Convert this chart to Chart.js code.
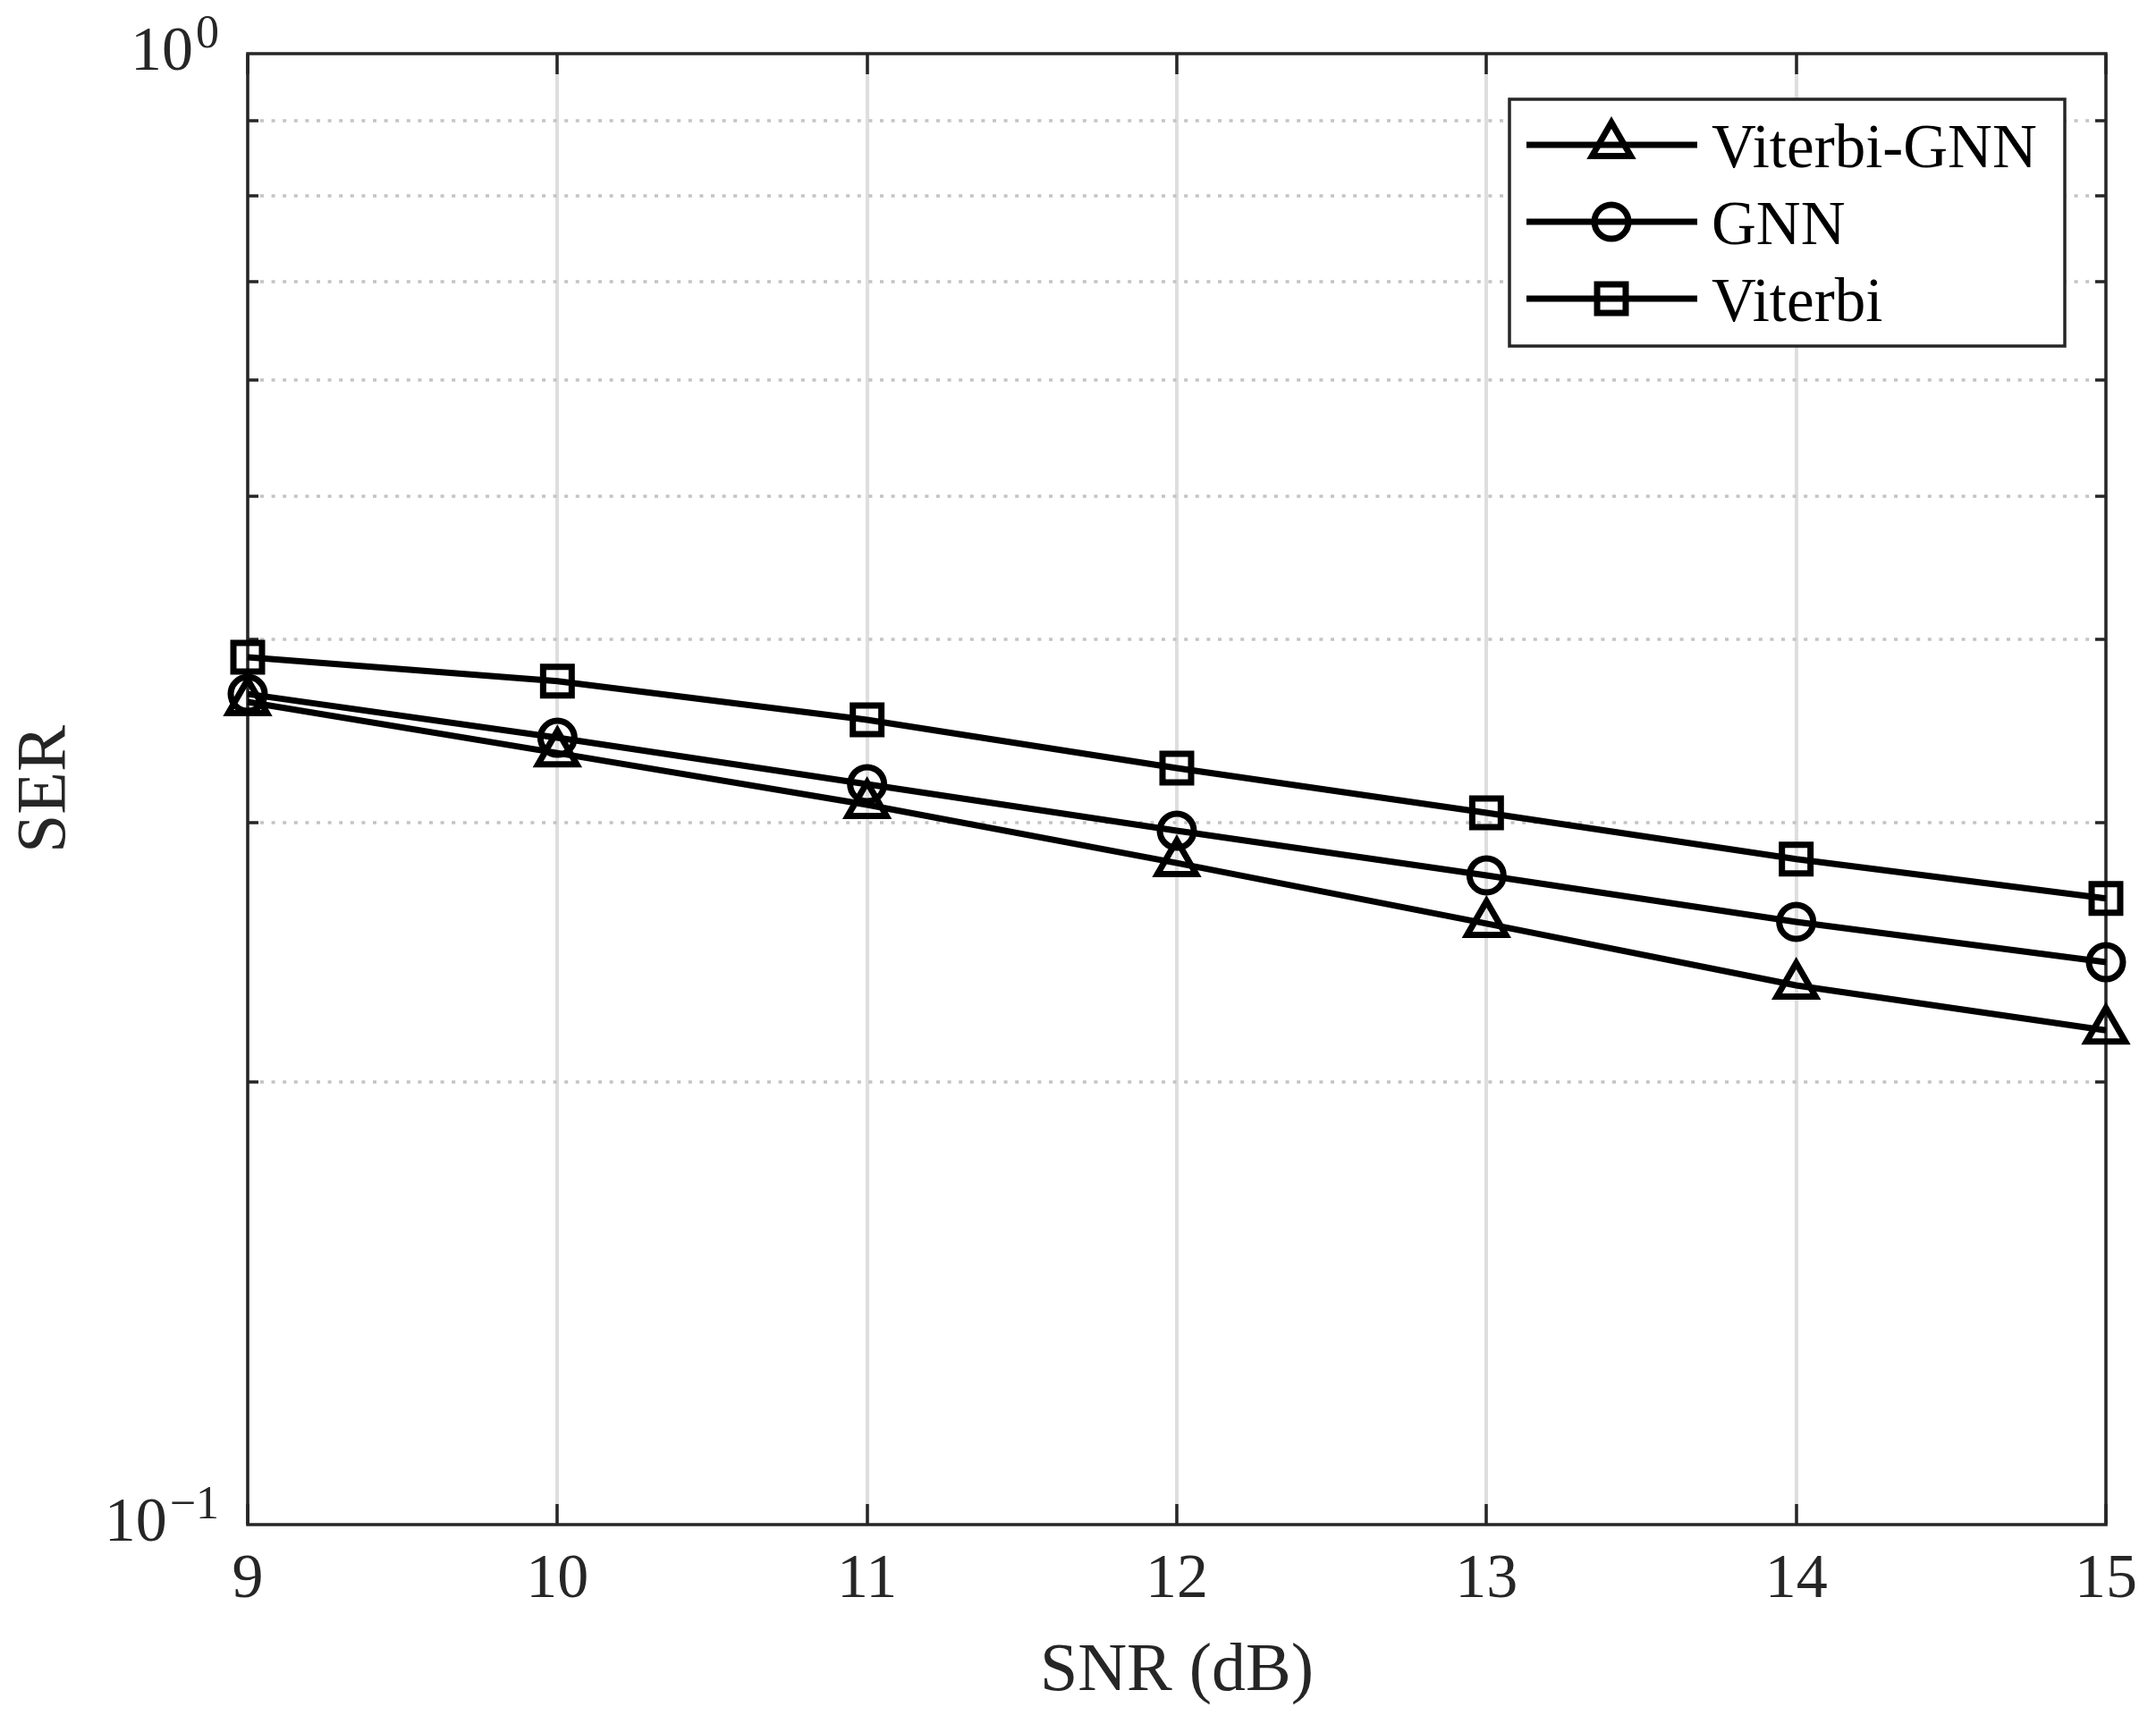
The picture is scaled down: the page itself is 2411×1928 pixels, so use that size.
<!DOCTYPE html>
<html>
<head>
<meta charset="utf-8">
<script src="https://cdn.jsdelivr.net/npm/chart.js@4.4.0/dist/chart.umd.min.js"></script>
<style>
  html, body { margin: 0; padding: 0; background: #fff; }
  canvas { display: block; }
</style>
</head>
<body>
<canvas id="c" width="2411" height="1928"></canvas>
<script>
// SER vs SNR
const snr = [9, 10, 11, 12, 13, 14, 15];
const serViterbiGnn = [0.3625, 0.3346, 0.3086, 0.2817, 0.2562, 0.2326, 0.2168];
const serGnn = [0.3670, 0.3427, 0.3187, 0.2963, 0.2763, 0.2569, 0.2412];
const serViterbi = [0.3887, 0.3745, 0.3525, 0.3268, 0.3047, 0.2834, 0.2665];
const seriesNames = ['Viterbi-GNN', 'GNN', 'Viterbi'];
const markers = ['triangle', 'circle', 'rect'];
const markerRadius = [25, 19, 22.6];
const yTickValues = [0.1, 0.2, 0.3, 0.4, 0.5, 0.6, 0.7, 0.8, 0.9, 1];
const yMajorTicks = [1, 0.1];
const yMajorExp = ['0', '\u22121'];

const FONT = '"Liberation Serif", "Times New Roman", serif';
const AXIS = '#262626';

function pts(ys) {
  return snr.map((x, i) => ({ x: x, y: ys[i] }));
}

function mkSet(i, ys) {
  return {
    label: seriesNames[i],
    data: pts(ys),
    borderColor: '#000',
    borderWidth: 7,
    pointStyle: markers[i],
    pointRadius: markerRadius[i],
    pointBorderWidth: 7,
    pointBorderColor: '#000',
    pointBackgroundColor: 'rgba(0,0,0,0)',
    tension: 0,
    clip: false
  };
}

function shape(ctx, style, x, y, r) {
  ctx.beginPath();
  if (style === 'circle') {
    ctx.arc(x, y, r, 0, Math.PI * 2);
  } else if (style === 'rect') {
    const s = Math.SQRT1_2 * r;
    ctx.rect(x - s, y - s, 2 * s, 2 * s);
  } else {
    let a = 0;
    ctx.moveTo(x + Math.sin(a) * r, y - Math.cos(a) * r);
    a += 2 * Math.PI / 3;
    ctx.lineTo(x + Math.sin(a) * r, y - Math.cos(a) * r);
    a += 2 * Math.PI / 3;
    ctx.lineTo(x + Math.sin(a) * r, y - Math.cos(a) * r);
    ctx.closePath();
  }
  ctx.stroke();
}

const framePlugin = {
  id: 'frame',
  beforeDatasetsDraw(chart) {
    const ctx = chart.ctx;
    const a = chart.chartArea;
    const ys = chart.scales.y;
    const xs = chart.scales.x;
    ctx.save();
    // dotted horizontal grid at minor decades
    ctx.strokeStyle = '#c4c4c4';
    ctx.lineWidth = 3.5;
    ctx.setLineDash([4, 8.6]);
    ys.ticks.forEach(t => {
      if (yMajorTicks.includes(t.value)) return;
      const py = Math.round(ys.getPixelForValue(t.value));
      ctx.beginPath();
      ctx.moveTo(a.left + 14, py);
      ctx.lineTo(a.right - 12, py);
      ctx.stroke();
    });
    ctx.setLineDash([]);
    // inner ticks
    ctx.strokeStyle = AXIS;
    ctx.lineWidth = 3.5;
    ys.ticks.forEach(t => {
      if (yMajorTicks.includes(t.value)) return;
      const py = Math.round(ys.getPixelForValue(t.value));
      ctx.beginPath();
      ctx.moveTo(a.left, py); ctx.lineTo(a.left + 12, py);
      ctx.moveTo(a.right, py); ctx.lineTo(a.right - 12, py);
      ctx.stroke();
    });
    xs.ticks.forEach(t => {
      const px = Math.round(xs.getPixelForValue(t.value));
      ctx.beginPath();
      ctx.moveTo(px, a.bottom); ctx.lineTo(px, a.bottom - 23);
      ctx.moveTo(px, a.top); ctx.lineTo(px, a.top + 23);
      ctx.stroke();
    });
    // box
    ctx.strokeRect(a.left, a.top, a.right - a.left, a.bottom - a.top);
    ctx.restore();
  },
  afterDraw(chart) {
    const ctx = chart.ctx;
    const a = chart.chartArea;
    const ys = chart.scales.y;
    ctx.save();
    // y tick labels with superscripts
    ctx.fillStyle = AXIS;
    ctx.textBaseline = 'alphabetic';
    ctx.textAlign = 'left';
    yMajorTicks.forEach((v, i) => {
      const py = ys.getPixelForValue(v);
      ctx.font = '52px ' + FONT;
      const sw = ctx.measureText(yMajorExp[i]).width;
      const right = a.left - 32;
      ctx.fillText(yMajorExp[i], right - sw, py - 7);
      ctx.font = '70px ' + FONT;
      const bw = ctx.measureText('10').width;
      ctx.fillText('10', right - sw - 3 - bw, py + 18);
    });

    // legend
    const lx = 1688, ly = 111, lw = 621, lh = 276;
    ctx.fillStyle = '#fff';
    ctx.fillRect(lx, ly, lw, lh);
    ctx.strokeStyle = AXIS;
    ctx.lineWidth = 3.5;
    ctx.strokeRect(lx, ly, lw, lh);
    chart.data.datasets.forEach((ds, i) => {
      const cy = 162 + 86 * i;
      ctx.strokeStyle = '#000';
      ctx.lineWidth = 7;
      ctx.beginPath();
      ctx.moveTo(1707, cy);
      ctx.lineTo(1898, cy);
      ctx.stroke();
      shape(ctx, ds.pointStyle, 1802, cy, ds.pointRadius);
      ctx.fillStyle = '#000';
      ctx.font = '69px ' + FONT;
      ctx.fillText(ds.label, 1914, cy + 25);
    });
    ctx.restore();
  }
};

new Chart(document.getElementById('c'), {
  type: 'line',
  data: {
    datasets: [mkSet(0, serViterbiGnn), mkSet(1, serGnn), mkSet(2, serViterbi)]
  },
  options: {
    responsive: false,
    animation: false,
    devicePixelRatio: 1,
    layout: { padding: { left: 0, right: 51, top: 60, bottom: 0 } },
    plugins: { legend: { display: false }, tooltip: { enabled: false } },
    scales: {
      x: {
        type: 'linear',
        min: 9,
        max: 15,
        ticks: {
          stepSize: 1,
          color: AXIS,
          padding: 21,
          font: { family: FONT, size: 70 }
        },
        grid: { color: '#dedede', lineWidth: 4, drawTicks: false },
        border: { display: false },
        title: {
          display: true,
          text: 'SNR (dB)',
          color: AXIS,
          font: { family: FONT, size: 76 },
          padding: { top: 0, bottom: 12 }
        },
        afterFit(scale) { scale.height = 223; }
      },
      y: {
        type: 'logarithmic',
        min: 0.1,
        max: 1,
        ticks: { display: false },
        grid: { display: false },
        border: { display: false },
        afterBuildTicks(scale) {
          scale.ticks = yTickValues.map(v => ({ value: v }));
        },
        title: {
          display: true,
          text: 'SER',
          color: AXIS,
          font: { family: FONT, size: 78 },
          padding: { top: 5, bottom: 0 }
        },
        afterFit(scale) { scale.width = 277; }
      }
    }
  },
  plugins: [framePlugin]
});
</script>
</body>
</html>
